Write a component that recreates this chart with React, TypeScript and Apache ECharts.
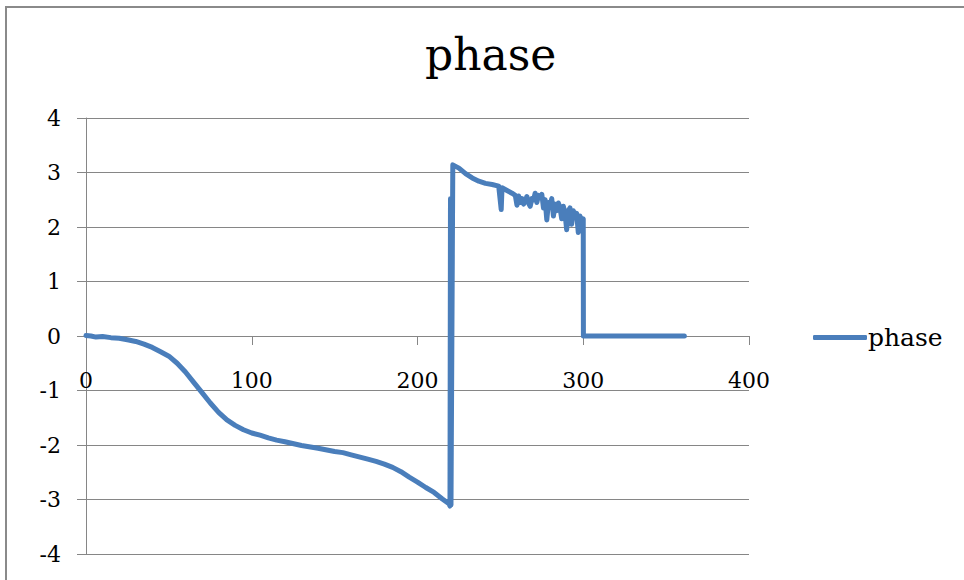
import React, { useEffect, useRef } from "react";
import * as echarts from "echarts";

const TITLE = "phase";
const SERIES_NAME = "phase";

// hand-read sample positions (x) and phase values (y)
const xFall = [0, 3, 6, 10, 15, 20, 25, 30, 35, 40, 45, 50, 55, 60, 65, 70, 75, 80, 85, 90, 95, 100, 105, 110, 115, 120, 130, 140, 150, 155, 160, 170, 175, 180, 185, 190, 195, 200, 205, 210, 215, 219, 219.6];
const yFall = [0.01, 0.0, -0.02, -0.01, -0.03, -0.04, -0.07, -0.1, -0.15, -0.21, -0.29, -0.37, -0.5, -0.66, -0.85, -1.04, -1.23, -1.4, -1.54, -1.64, -1.72, -1.78, -1.82, -1.87, -1.91, -1.94, -2.01, -2.06, -2.12, -2.14, -2.18, -2.26, -2.3, -2.35, -2.41, -2.49, -2.59, -2.68, -2.78, -2.87, -2.99, -3.08, -3.12];

const xJump = [219.9, 220.2, 221.3];
const yJump = [2.52, -3.1, 3.14];

const xNoisy = [225, 229, 233, 237, 241, 245, 249, 250.5, 251, 254, 257, 259, 260, 261, 262, 263, 264, 265, 266, 267, 268, 269, 270, 271, 272, 273, 274, 275, 276, 277, 278, 279, 280, 281, 282, 283, 284, 285, 286, 287, 288, 289, 290, 291, 292, 293, 294, 295, 296, 297, 298, 299, 300];
const yNoisy = [3.08, 2.98, 2.9, 2.84, 2.8, 2.78, 2.75, 2.32, 2.72, 2.67, 2.62, 2.58, 2.4, 2.57, 2.45, 2.52, 2.42, 2.48, 2.56, 2.44, 2.38, 2.52, 2.5, 2.62, 2.45, 2.58, 2.55, 2.6, 2.35, 2.5, 2.13, 2.45, 2.4, 2.52, 2.2, 2.42, 2.3, 2.44, 2.35, 2.15, 2.38, 2.25, 1.95, 2.3, 2.35, 2.05, 2.3, 2.2, 2.25, 1.9, 2.2, 2.1, 2.15];

const xFlat = [300.1, 310, 320, 330, 340, 350, 361];
const yFlat = [0, 0, 0, 0, 0, 0, 0];

const X_MIN = 0;
const X_MAX = 400;
const X_STEP = 100;
const Y_MIN = -4;
const Y_MAX = 4;
const Y_STEP = 1;

const FONT = "DejaVu Serif";
const GRID_COLOR = "#868686";
const LINE_COLOR = "#4a7ebb";

const GRID_TOP = 118;
const GRID_BOTTOM = 26;
const CHART_H = 580;

function pairs(xs: number[], ys: number[]) {
  return xs.map((x, i) => [x, ys[i]]);
}

export default function App() {
  const ref = useRef<HTMLDivElement>(null);
  useEffect(() => {
    if (!ref.current) return;
    const chart = echarts.init(ref.current, undefined, { renderer: "svg" });
    const data = [
      ...pairs(xFall, yFall),
      ...pairs(xJump, yJump),
      ...pairs(xNoisy, yNoisy),
      ...pairs(xFlat, yFlat),
    ];
    // x axis sits on the y = 0 line (middle of the symmetric y range)
    const plotH = CHART_H - GRID_TOP - GRID_BOTTOM;
    const zeroOffset = -(plotH * (0 - Y_MIN)) / (Y_MAX - Y_MIN);
    chart.setOption({
      animation: false,
      backgroundColor: "#ffffff",
      graphic: [
        {
          type: "rect",
          shape: { x: 6, y: 7, width: 980, height: 600 },
          style: { fill: "none", stroke: "#8a8a8a", lineWidth: 2 },
          silent: true,
        },
      ],
      title: {
        text: TITLE,
        left: 420,
        top: 27,
        textStyle: { fontFamily: FONT, fontSize: 44, fontWeight: "normal", color: "#000" },
      },
      legend: {
        data: [SERIES_NAME],
        left: 808,
        top: 320,
        orient: "vertical",
        itemWidth: 54,
        itemHeight: 5,
        itemGap: 4,
        icon: "roundRect",
        textStyle: { fontFamily: FONT, fontSize: 25, color: "#000", padding: [0, 0, 0, -4] },
      },
      grid: {
        left: 86,
        right: 215,
        top: GRID_TOP,
        bottom: GRID_BOTTOM,
        containLabel: false,
        outerBoundsMode: "none",
      },
      xAxis: {
        type: "value",
        min: X_MIN,
        max: X_MAX,
        interval: X_STEP,
        offset: zeroOffset,
        axisLine: { show: true, onZero: false, lineStyle: { color: GRID_COLOR, width: 1 } },
        axisTick: { show: true, length: 9, inside: false, lineStyle: { color: GRID_COLOR } },
        axisLabel: { fontFamily: FONT, fontSize: 22, color: "#000", margin: 33 },
        splitLine: { show: false },
      },
      yAxis: {
        type: "value",
        min: Y_MIN,
        max: Y_MAX,
        interval: Y_STEP,
        axisLine: { show: true, onZero: false, lineStyle: { color: GRID_COLOR, width: 1 } },
        axisTick: { show: true, length: 9, inside: false, lineStyle: { color: GRID_COLOR } },
        axisLabel: { fontFamily: FONT, fontSize: 22, color: "#000", margin: 25 },
        splitLine: { show: true, lineStyle: { color: GRID_COLOR, width: 1 } },
      },
      series: [
        {
          name: SERIES_NAME,
          type: "line",
          data,
          showSymbol: false,
          symbol: "none",
          color: LINE_COLOR,
          lineStyle: { color: LINE_COLOR, width: 5, join: "round", cap: "round" },
        },
      ],
    });
    return () => chart.dispose();
  }, []);
  return (
    <div
      ref={ref}
      style={{ position: "fixed", left: 0, top: 0, width: 964, height: CHART_H }}
    />
  );
}
